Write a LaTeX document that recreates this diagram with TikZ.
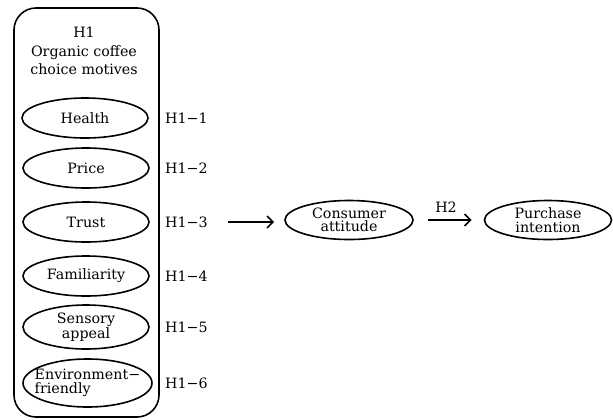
\documentclass[tikz,border=0pt]{standalone}
\usepackage{fontspec}
\setmainfont{DejaVu Serif}
\usetikzlibrary{shapes.geometric,arrows.meta}
\begin{document}
\begin{tikzpicture}[x=1bp,y=-1bp,
  every node/.style={font=\fontsize{14.3}{13.5}\selectfont},
  ell/.style={draw,line width=1.6bp,ellipse,minimum width=126bp,minimum height=40bp,inner sep=0pt,align=center},
  lab/.style={anchor=west,inner sep=0pt},
  arr/.style={line width=1.6bp,-{Straight Barb[length=6bp,width=12bp]}}]
\useasboundingbox (0,0) rectangle (613,419);
\node[draw,line width=1.6bp,rounded corners=22bp,minimum width=145bp,minimum height=409bp,inner sep=0pt] (box) at (86.5,212.5) {};
\node[align=center,font=\fontsize{14.3}{18.5}\selectfont] (title) at (84,51) {H1\\Organic coffee\\choice motives};
\node[ell] (e1) at (85,118) {Health};
\node[ell] (e2) at (86,168) {Price};
\node[ell] (e3) at (86,222) {Trust};
\node[ell] (e4) at (86,276) {Familiarity};
\node[ell,minimum height=44bp] (e5) at (86,327) {Sensory\\appeal};
\node[ell,minimum width=129bp,minimum height=48bp] (e6) at (87.5,383) {};
\node[align=left,inner sep=0pt] (t6) at (e6.center) {Environment−\\friendly};
\node[lab] (l1) at (165,118) {H1−1};
\node[lab] (l2) at (165,168) {H1−2};
\node[lab] (l3) at (165,222) {H1−3};
\node[lab] (l4) at (165,276) {H1−4};
\node[lab] (l5) at (165,327) {H1−5};
\node[lab] (l6) at (165,383) {H1−6};
\node[ell,minimum width=128bp,minimum height=39bp] (ca) at (349,220) {Consumer\\attitude};
\node[ell,minimum width=127bp,minimum height=39bp] (pi) at (548,220) {Purchase\\intention};
\coordinate (s3) at (228,222);
\draw[arr] (s3) -- ([xshift=-10bp]ca.west |- s3);
\draw[arr] ([xshift=14bp]ca.east) -- ([xshift=-12bp]pi.west);
\node (h2) at (446,207) {H2};
\end{tikzpicture}
\end{document}
